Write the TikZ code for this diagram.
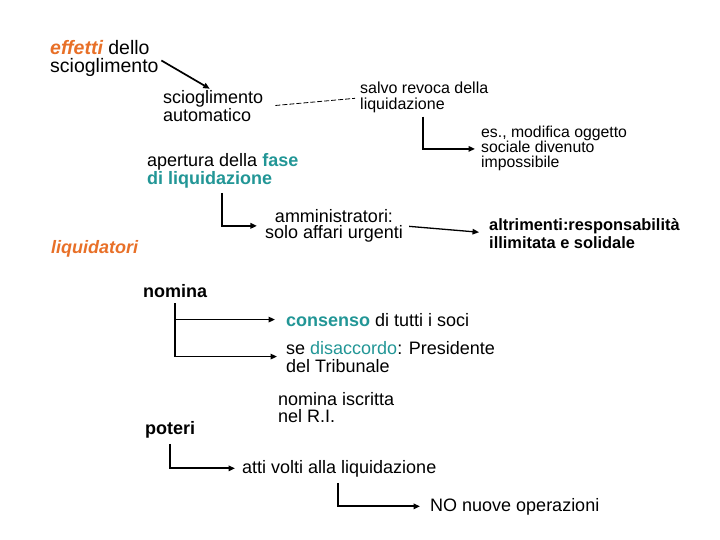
\documentclass[tikz,border=0pt]{standalone}
\usepackage{fontspec}
\setmainfont{Liberation Sans}
\usepackage{xcolor}
\usetikzlibrary{positioning, arrows.meta, calc}
\definecolor{accent}{RGB}{232,112,40}
\definecolor{fasecol}{RGB}{34,150,150}

\begin{document}
\begin{tikzpicture}[
    x=1pt, y=-1pt,
    lbl/.style={inner sep=0pt, anchor=base west, align=left, font=\fontsize{18}{18}\selectfont},
    small/.style={lbl, font=\fontsize{16}{16}\selectfont},
    arrow/.style={-{Triangle[length=6.5pt, width=5.5pt]}, line width=1.7pt},
    dashline/.style={dash pattern=on 5pt off 2pt, line width=0.8pt}
]
    \useasboundingbox (0,0) rectangle (720,540);
    \node[lbl, font=\fontsize{19.5}{18}\selectfont] (effetti) at (50,73) {\textcolor{accent}{\bfseries\itshape effetti} dello\\scioglimento};
    \node[lbl] (autom) at (163,122) {scioglimento\\automatico};
    \node[small] (salvo) at (360,110) {salvo revoca della\\liquidazione};
    \node[lbl, font=\fontsize{15.8}{15}\selectfont] (esmod) at (481,168) {es., modifica oggetto\\sociale divenuto\\impossibile};
    \node[lbl] (apertura) at (147,185) {apertura della \textcolor{fasecol}{\bfseries fase}\\\textcolor{fasecol}{\bfseries di liquidazione}};
    \node[lbl, anchor=base, align=center, font=\fontsize{18}{17}\selectfont] (amm) at (334,239) {amministratori:\\solo affari urgenti};
    \node[lbl, font=\fontsize{16.4}{18}\selectfont\bfseries] (altr) at (489,248) {altrimenti:responsabilità\\illimitata e solidale};
    \node[lbl, font=\fontsize{18}{18}\selectfont\bfseries\itshape, text=accent] (liquid) at (51,254) {liquidatori};
    \node[lbl, font=\fontsize{18}{18}\selectfont\bfseries] (nomina) at (143,297) {nomina};
    \node[lbl] (consenso) at (286,326) {\textcolor{fasecol}{\bfseries consenso} di tutti i soci};
    \node[lbl] (disacc) at (286,372) {se \textcolor{fasecol}{disaccordo}: Presidente\\del Tribunale};
    \node[lbl, font=\fontsize{18}{17}\selectfont] (iscritta) at (278,422) {nomina iscritta\\nel R.I.};
    \node[lbl, font=\fontsize{18}{18}\selectfont\bfseries] (poteri) at (145,434) {poteri};
    \node[lbl] (atti) at (242,473) {atti volti alla liquidazione};
    \node[lbl] (nuove) at (430,511) {NO nuove operazioni};
    \coordinate (nomx) at ([xshift=32pt]nomina.south west);
    \draw[arrow, shorten <=3pt, shorten >=4pt] (effetti.east) -- (autom.north);
    \draw[dashline, shorten <=12pt, shorten >=5pt] (autom.east) -- (salvo.west);
    \draw[arrow, shorten <=3pt, shorten >=6pt] ([xshift=63pt]salvo.south west) |- (esmod.west);
    \draw[arrow, shorten <=4pt, shorten >=8pt] ([xshift=75pt]apertura.south west) |- (amm.west);
    \draw[arrow, line width=1.3pt, shorten <=6pt, shorten >=10pt] (amm.east) -- (altr.west);
    \draw[arrow, shorten <=6pt, shorten >=9pt] (nomx) |- (disacc.west);
    \draw[arrow, shorten >=11pt] (nomx |- consenso.west) -- (consenso.west);
    \draw[arrow, shorten <=6pt, shorten >=7pt] ([xshift=25pt]poteri.south west) |- (atti.west);
    \draw[arrow, shorten <=6pt, shorten >=10pt] ([xshift=96pt]atti.south west) |- (nuove.west);
\end{tikzpicture}
\end{document}
